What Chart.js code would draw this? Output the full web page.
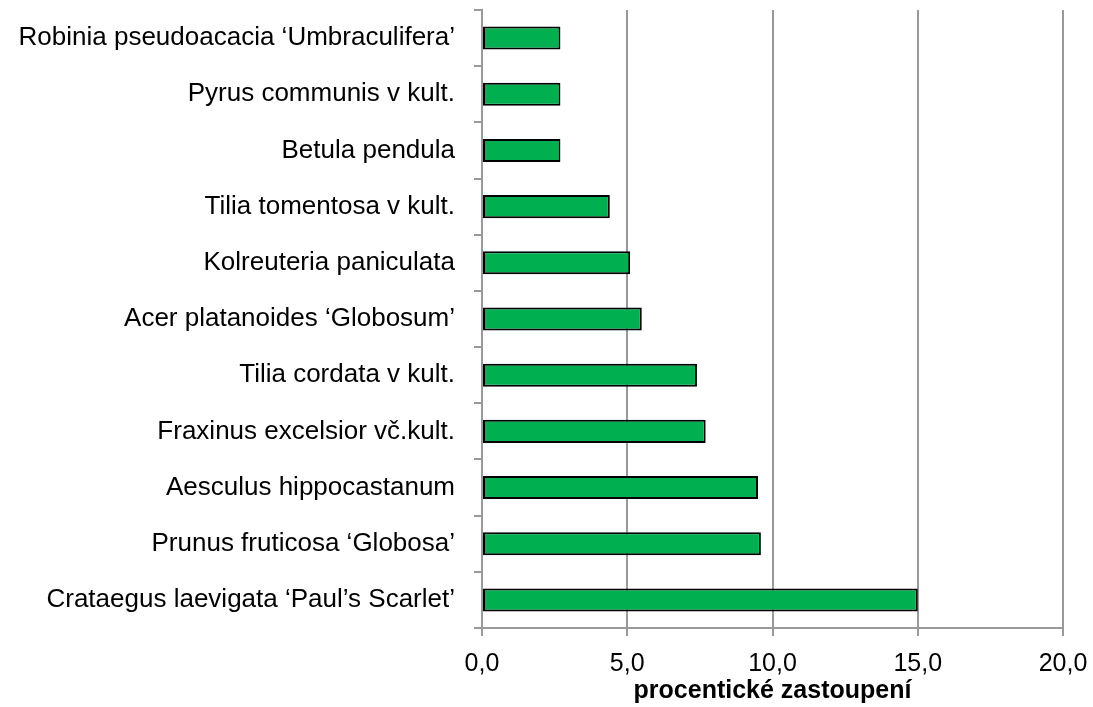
<!DOCTYPE html>
<html>
<head>
<meta charset="utf-8">
<script src="https://cdn.jsdelivr.net/npm/chart.js@4"></script>
<style>
  html, body { margin: 0; padding: 0; background: #fff; }
  #wrap { width: 1093px; height: 707px; }
</style>
</head>
<body>
<div id="wrap"><canvas id="chart" width="1093" height="707"></canvas></div>
<script>
const species = [
    'Robinia pseudoacacia \u2018Umbraculifera\u2019',
    'Pyrus communis v kult.',
    'Betula pendula',
    'Tilia tomentosa v kult.',
    'Kolreuteria paniculata',
    'Acer platanoides \u2018Globosum\u2019',
    'Tilia cordata v kult.',
    'Fraxinus excelsior v\u010d.kult.',
    'Aesculus hippocastanum',
    'Prunus fruticosa \u2018Globosa\u2019',
    'Crataegus laevigata \u2018Paul\u2019s Scarlet\u2019'
];
const shares = [2.7, 2.7, 2.7, 4.4, 5.1, 5.5, 7.4, 7.7, 9.5, 9.6, 15.0];
const xTicks = [0, 5, 10, 15, 20];
const axisTitle = 'procentické zastoupení';

const gridGray = '#999999';
const font = "'Liberation Sans', Arial, sans-serif";

new Chart(document.getElementById('chart'), {
    type: 'bar',
    data: {
        labels: species,
        datasets: [{
            data: shares,
            backgroundColor: '#00b050',
            borderColor: '#000000',
            borderWidth: 2,
            borderSkipped: false,
            barPercentage: 0.41,
            categoryPercentage: 1
        }]
    },
    options: {
        indexAxis: 'y',
        responsive: false,
        animation: false,
        layout: { padding: { top: 10, right: 30, bottom: 0, left: 0 } },
        plugins: { legend: { display: false }, tooltip: { enabled: false } },
        scales: {
            x: {
                min: xTicks[0], max: xTicks[xTicks.length - 1],
                afterBuildTicks: (axis) => { axis.ticks = xTicks.map(v => ({ value: v })); },
                afterFit: (axis) => { axis.height = 79; axis.paddingRight = 0; },
                grid: { color: gridGray, lineWidth: 2, tickLength: 8 },
                border: { color: gridGray, width: 2 },
                ticks: {
                    color: '#000', padding: 13,
                    font: { family: font, size: 25 },
                    callback: (v) => Number(v).toFixed(1).replace('.', ',')
                },
                title: {
                    display: true, text: axisTitle, color: '#000',
                    font: { family: font, size: 25, weight: 'bold' },
                    padding: { top: 0, bottom: 1 }
                }
            },
            y: {
                afterFit: (axis) => { axis.width = 482; axis.paddingTop = 0; axis.paddingBottom = 0; },
                grid: { drawOnChartArea: false, color: gridGray, lineWidth: 2, tickLength: 8 },
                border: { color: gridGray, width: 2 },
                ticks: {
                    color: '#000', padding: 19,
                    font: { family: font, size: 26 }
                }
            }
        }
    }
});
</script>
</body>
</html>
